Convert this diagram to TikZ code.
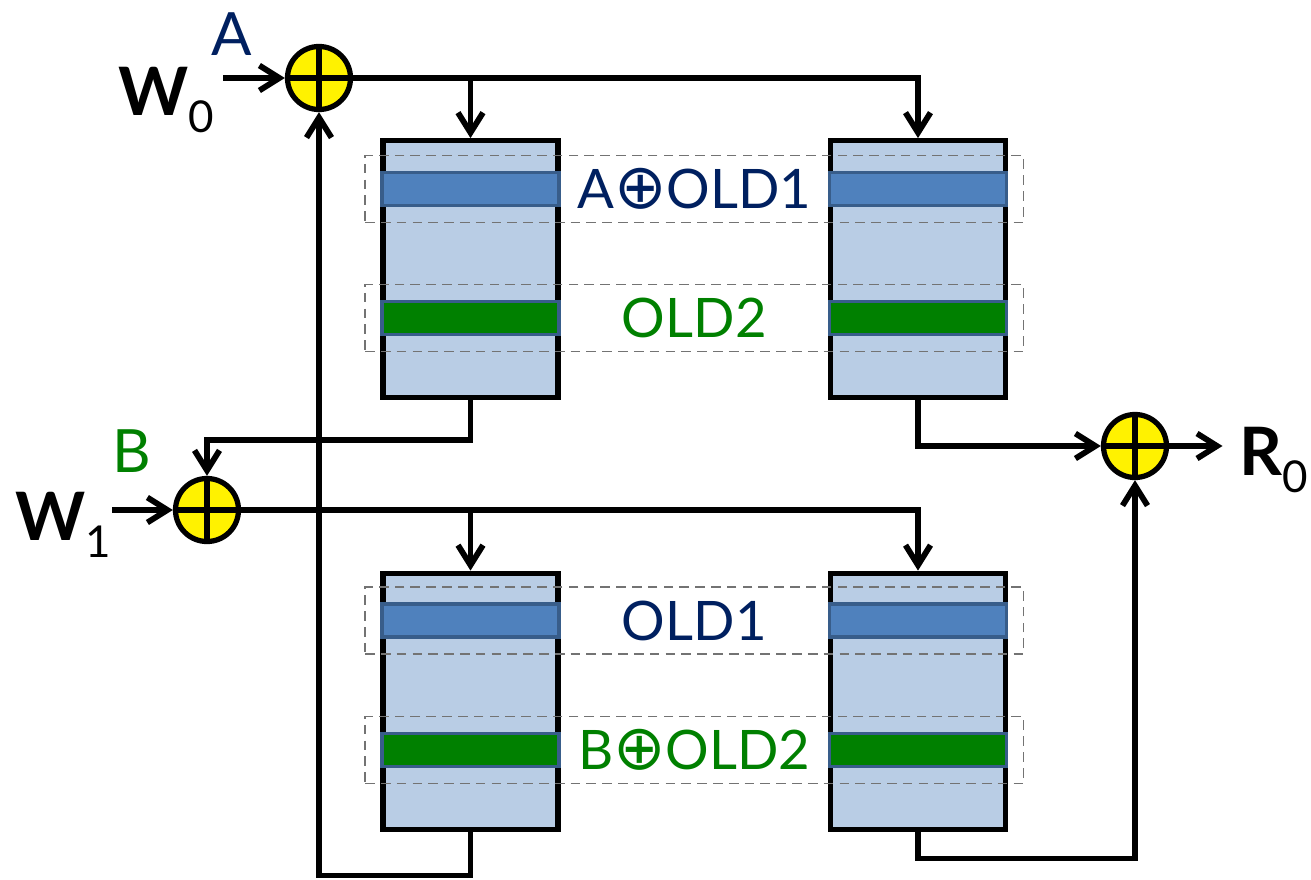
\documentclass[tikz,border=0pt]{standalone}
\usepackage{fontspec}
\setmainfont{Lato}
\newfontfamily\oplusfont{DejaVu Sans}
\usetikzlibrary{arrows.meta,positioning,fit,calc}

\definecolor{navy}{HTML}{002060}
\definecolor{darkgreen}{HTML}{008000}
\definecolor{bankfill}{HTML}{B9CDE5}
\definecolor{barblue}{HTML}{4F81BD}
\definecolor{barrim}{HTML}{385D8A}

\newcommand{\xorsym}{{\oplusfont\scalebox{1.15}{⊕}}}
\newcommand{\lowidx}[1]{\raisebox{-10pt}{\fontsize{25}{25}\selectfont\mdseries #1}}

\begin{document}
\begin{tikzpicture}[
bank/.style={draw, line width=3pt, fill=bankfill, minimum width=3.5cm, minimum height=5.13cm, inner sep=0},
bar/.style={draw=barrim, line width=2.2pt, minimum width=3.54cm, minimum height=0.66cm, inner sep=0},
lane/.style={draw=black!55, line width=0.9pt, dash pattern=on 5.5pt off 3.5pt, inner sep=0.3cm},
xor/.style={draw, circle, line width=3pt, fill=yellow, minimum size=1.26cm, inner sep=0,
  path picture={\draw[line width=3pt] (path picture bounding box.north) -- (path picture bounding box.south)
    (path picture bounding box.west) -- (path picture bounding box.east);}},
wire/.style={line width=3.3pt},
arr/.style={wire, -{Straight Barb[length=4mm,width=5mm]}},
io/.style={font=\fontsize{38}{38}\selectfont\bfseries, inner sep=0, anchor=base west},
tag/.style={font=\fontsize{34}{34}\selectfont, inner sep=0, anchor=base},
lbl/.style={font=\fontsize{31}{31}\selectfont, inner sep=0}
]
\useasboundingbox (0,0) rectangle (26.22,-17.58);

% xor gates
\node[xor] (x0) at (6.38,-1.56) {};
\node[xor] (x1) at (4.14,-10.2) {};
\node[xor] (xr) at (22.7,-8.92) {};

% memory banks
\node[bank] (tl) at (9.41,-5.38) {};
\node[bank] (tr) at (18.36,-5.38) {};
\node[bank] (bl) at (9.41,-14.03) {};
\node[bank] (br) at (18.36,-14.03) {};

\node[bar, fill=barblue, below=0.65cm of tl.north] (tl1) {};
\node[bar, fill=darkgreen, below=3.23cm of tl.north] (tl2) {};
\node[bar, fill=barblue, below=0.65cm of tr.north] (tr1) {};
\node[bar, fill=darkgreen, below=3.23cm of tr.north] (tr2) {};
\node[bar, fill=barblue, below=0.63cm of bl.north] (bl1) {};
\node[bar, fill=darkgreen, below=3.22cm of bl.north] (bl2) {};
\node[bar, fill=barblue, below=0.63cm of br.north] (br1) {};
\node[bar, fill=darkgreen, below=3.22cm of br.north] (br2) {};

% rows
\node[lane, fit=(tl1)(tr1)] (row1) {};
\node[lane, fit=(tl2)(tr2)] (row2) {};
\node[lane, fit=(bl1)(br1)] (row3) {};
\node[lane, fit=(bl2)(br2)] (row4) {};
\node[lbl, text=navy] (txt1) at (row1) {A\xorsym OLD1};
\node[lbl, text=darkgreen] (txt2) at (row2) {OLD2};
\node[lbl, text=navy] (txt3) at (row3) {OLD1};
\node[lbl, text=darkgreen] (txt4) at (row4) {B\xorsym OLD2};

% inputs and output
\node[tag, text=navy] (tagA) at (4.64,-1.1) {A};
\node[tag, text=darkgreen] (tagB) at (2.64,-9.44) {B};
\node[io] (w0) at (2.36,-2.3) {W\lowidx{0}};
\node[io] (w1) at (0.3,-10.8) {W\lowidx{1}};
\node[io] (r0) at (24.78,-9.5) {R\lowidx{0}};
\coordinate (w0in) at (4.46,-1.56);
\coordinate (w1in) at (2.24,-10.2);
\coordinate (r0out) at (24.45,-8.92);

\draw[arr] (w0in) -- (x0);
\draw[arr] (w1in) -- (x1);
\draw[arr] (xr) -- (r0out);
\draw[arr] (x0.east) -| (tr.north);
\draw[arr] (x0.east -| tl.north) -- (tl.north);
\draw[arr] (x1.east) -| (br.north);
\draw[arr] (x1.east -| bl.north) -- (bl.north);
\draw[arr] (tl.south) -- ++(0,-0.8) -| (x1.north);
\draw[arr] (tr.south) |- (xr.west);
\draw[arr] (bl.south) -- ++(0,-0.86) -| (x0.south);
\draw[arr] (br.south) -- ++(0,-0.52) -| (xr.south);
\end{tikzpicture}
\end{document}
